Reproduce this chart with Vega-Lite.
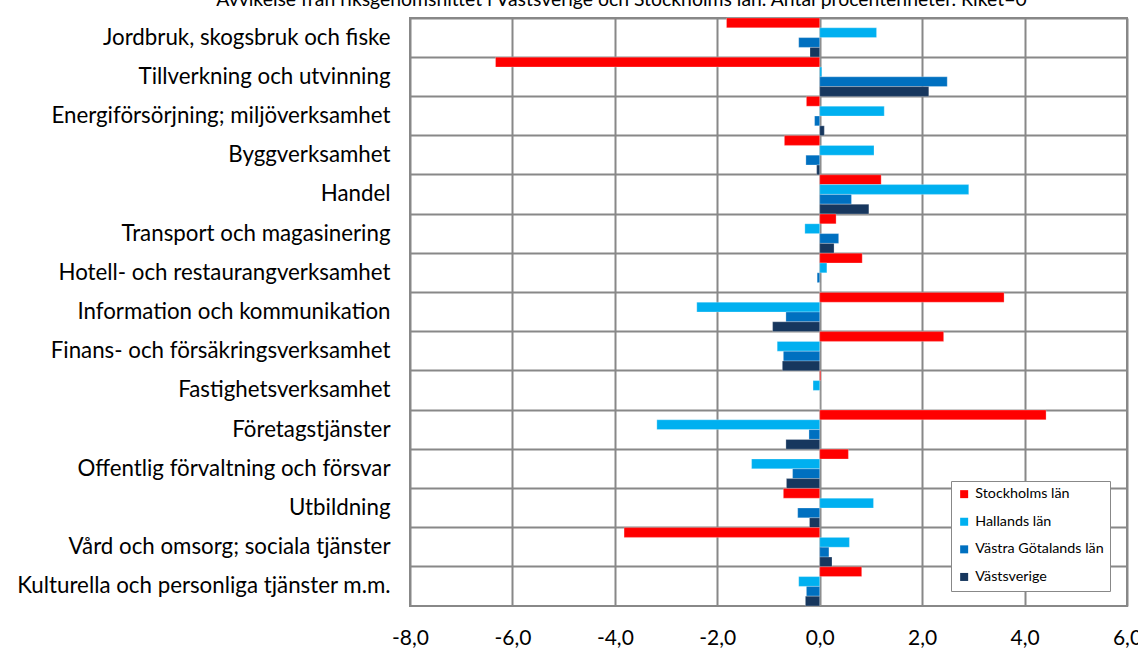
{
  "$schema": "https://vega.github.io/schema/vega-lite/v6.json",
  "autosize": "none",
  "width": 717,
  "height": 588,
  "padding": {"left": 410, "top": 18, "right": 11, "bottom": 42},
  "background": "white",
  "config": {
    "font": "Lato",
    "view": {"stroke": "#888888", "strokeWidth": 2}
  },
  "title": {
    "text": "Avvikelse från riksgenomsnittet i Västsverige och Stockholms län. Antal procentenheter. Riket=0",
    "fontSize": 19.4,
    "fontWeight": "normal",
    "font": "Lato",
    "color": "#000000",
    "anchor": "middle",
    "frame": "group",
    "dx": -147,
    "dy": 17,
    "baseline": "alphabetic",
    "offset": 9
  },
  "data": {
    "values": [
      {"kategori": "Jordbruk, skogsbruk och fiske", "serie": "Stockholms län", "varde": -1.82},
      {"kategori": "Jordbruk, skogsbruk och fiske", "serie": "Hallands län", "varde": 1.11},
      {"kategori": "Jordbruk, skogsbruk och fiske", "serie": "Västra Götalands län", "varde": -0.41},
      {"kategori": "Jordbruk, skogsbruk och fiske", "serie": "Västsverige", "varde": -0.19},
      {"kategori": "Tillverkning och utvinning", "serie": "Stockholms län", "varde": -6.33},
      {"kategori": "Tillverkning och utvinning", "serie": "Hallands län", "varde": 0.04},
      {"kategori": "Tillverkning och utvinning", "serie": "Västra Götalands län", "varde": 2.49},
      {"kategori": "Tillverkning och utvinning", "serie": "Västsverige", "varde": 2.13},
      {"kategori": "Energiförsörjning; miljöverksamhet", "serie": "Stockholms län", "varde": -0.26},
      {"kategori": "Energiförsörjning; miljöverksamhet", "serie": "Hallands län", "varde": 1.26},
      {"kategori": "Energiförsörjning; miljöverksamhet", "serie": "Västra Götalands län", "varde": -0.1},
      {"kategori": "Energiförsörjning; miljöverksamhet", "serie": "Västsverige", "varde": 0.09},
      {"kategori": "Byggverksamhet", "serie": "Stockholms län", "varde": -0.69},
      {"kategori": "Byggverksamhet", "serie": "Hallands län", "varde": 1.06},
      {"kategori": "Byggverksamhet", "serie": "Västra Götalands län", "varde": -0.27},
      {"kategori": "Byggverksamhet", "serie": "Västsverige", "varde": -0.06},
      {"kategori": "Handel", "serie": "Stockholms län", "varde": 1.2},
      {"kategori": "Handel", "serie": "Hallands län", "varde": 2.91},
      {"kategori": "Handel", "serie": "Västra Götalands län", "varde": 0.62},
      {"kategori": "Handel", "serie": "Västsverige", "varde": 0.96},
      {"kategori": "Transport och magasinering", "serie": "Stockholms län", "varde": 0.32},
      {"kategori": "Transport och magasinering", "serie": "Hallands län", "varde": -0.29},
      {"kategori": "Transport och magasinering", "serie": "Västra Götalands län", "varde": 0.37},
      {"kategori": "Transport och magasinering", "serie": "Västsverige", "varde": 0.28},
      {"kategori": "Hotell- och restaurangverksamhet", "serie": "Stockholms län", "varde": 0.83},
      {"kategori": "Hotell- och restaurangverksamhet", "serie": "Hallands län", "varde": 0.14},
      {"kategori": "Hotell- och restaurangverksamhet", "serie": "Västra Götalands län", "varde": -0.05},
      {"kategori": "Hotell- och restaurangverksamhet", "serie": "Västsverige", "varde": 0.0},
      {"kategori": "Information och kommunikation", "serie": "Stockholms län", "varde": 3.6},
      {"kategori": "Information och kommunikation", "serie": "Hallands län", "varde": -2.4},
      {"kategori": "Information och kommunikation", "serie": "Västra Götalands län", "varde": -0.66},
      {"kategori": "Information och kommunikation", "serie": "Västsverige", "varde": -0.92},
      {"kategori": "Finans- och försäkringsverksamhet", "serie": "Stockholms län", "varde": 2.42},
      {"kategori": "Finans- och försäkringsverksamhet", "serie": "Hallands län", "varde": -0.83},
      {"kategori": "Finans- och försäkringsverksamhet", "serie": "Västra Götalands län", "varde": -0.71},
      {"kategori": "Finans- och försäkringsverksamhet", "serie": "Västsverige", "varde": -0.73},
      {"kategori": "Fastighetsverksamhet", "serie": "Stockholms län", "varde": 0.02},
      {"kategori": "Fastighetsverksamhet", "serie": "Hallands län", "varde": -0.13},
      {"kategori": "Fastighetsverksamhet", "serie": "Västra Götalands län", "varde": 0.0},
      {"kategori": "Fastighetsverksamhet", "serie": "Västsverige", "varde": 0.0},
      {"kategori": "Företagstjänster", "serie": "Stockholms län", "varde": 4.42},
      {"kategori": "Företagstjänster", "serie": "Hallands län", "varde": -3.18},
      {"kategori": "Företagstjänster", "serie": "Västra Götalands län", "varde": -0.21},
      {"kategori": "Företagstjänster", "serie": "Västsverige", "varde": -0.66},
      {"kategori": "Offentlig förvaltning och försvar", "serie": "Stockholms län", "varde": 0.56},
      {"kategori": "Offentlig förvaltning och försvar", "serie": "Hallands län", "varde": -1.33},
      {"kategori": "Offentlig förvaltning och försvar", "serie": "Västra Götalands län", "varde": -0.53},
      {"kategori": "Offentlig förvaltning och försvar", "serie": "Västsverige", "varde": -0.65},
      {"kategori": "Utbildning", "serie": "Stockholms län", "varde": -0.71},
      {"kategori": "Utbildning", "serie": "Hallands län", "varde": 1.05},
      {"kategori": "Utbildning", "serie": "Västra Götalands län", "varde": -0.43},
      {"kategori": "Utbildning", "serie": "Västsverige", "varde": -0.2},
      {"kategori": "Vård och omsorg; sociala tjänster", "serie": "Stockholms län", "varde": -3.82},
      {"kategori": "Vård och omsorg; sociala tjänster", "serie": "Hallands län", "varde": 0.58},
      {"kategori": "Vård och omsorg; sociala tjänster", "serie": "Västra Götalands län", "varde": 0.18},
      {"kategori": "Vård och omsorg; sociala tjänster", "serie": "Västsverige", "varde": 0.24},
      {"kategori": "Kulturella och personliga tjänster m.m.", "serie": "Stockholms län", "varde": 0.82},
      {"kategori": "Kulturella och personliga tjänster m.m.", "serie": "Hallands län", "varde": -0.41},
      {"kategori": "Kulturella och personliga tjänster m.m.", "serie": "Västra Götalands län", "varde": -0.26},
      {"kategori": "Kulturella och personliga tjänster m.m.", "serie": "Västsverige", "varde": -0.28}
    ]
  },
  "mark": {"type": "bar", "stroke": "#ffffff", "strokeWidth": 0.5, "strokeOpacity": 0.5},
  "encoding": {
    "y": {
      "field": "kategori",
      "type": "nominal",
      "sort": null,
      "scale": {"paddingInner": 0, "paddingOuter": 0},
      "axis": {
        "title": null,
        "grid": true,
        "gridColor": "#888888",
        "gridWidth": 2,
        "bandPosition": 0,
        "ticks": false,
        "domain": false,
        "labelFontSize": 22.3,
        "labelColor": "#000000",
        "labelPadding": 20,
        "labelLimit": 420
      }
    },
    "yOffset": {
      "field": "serie",
      "type": "nominal",
      "sort": ["Stockholms län", "Hallands län", "Västra Götalands län", "Västsverige"],
      "scale": {"paddingInner": 0, "paddingOuter": 0}
    },
    "x": {
      "field": "varde",
      "type": "quantitative",
      "scale": {"domain": [-8, 6], "nice": false, "zero": false},
      "axis": {
        "title": null,
        "values": [-8, -6, -4, -2, 0, 2, 4, 6],
        "grid": true,
        "gridColor": "#888888",
        "gridWidth": 2,
        "ticks": false,
        "domain": false,
        "labelFontSize": 21,
        "labelColor": "#000000",
        "labelPadding": 38,
        "labelBaseline": "alphabetic",
        "labelFlush": false,
        "labelExpr": "replace(replace(format(datum.value, '.1f'), '.', ','), '−', '-')"
      }
    },
    "color": {
      "field": "serie",
      "type": "nominal",
      "sort": ["Stockholms län", "Hallands län", "Västra Götalands län", "Västsverige"],
      "scale": {
        "domain": ["Stockholms län", "Hallands län", "Västra Götalands län", "Västsverige"],
        "range": ["#FF0000", "#00B0F0", "#0070C0", "#17375E"]
      },
      "legend": {
        "title": null,
        "orient": "none",
        "legendX": 541,
        "legendY": 463,
        "strokeColor": "#888888",
        "fillColor": "#ffffff",
        "padding": 6,
        "symbolType": "square",
        "symbolSize": 64,
        "symbolStrokeWidth": 0,
        "labelFontSize": 14.3,
        "labelColor": "#000000",
        "rowPadding": 12.6,
        "labelOffset": 4,
        "encode": {"legend": {"update": {"strokeWidth": {"value": 2}}}}
      }
    }
  }
}
